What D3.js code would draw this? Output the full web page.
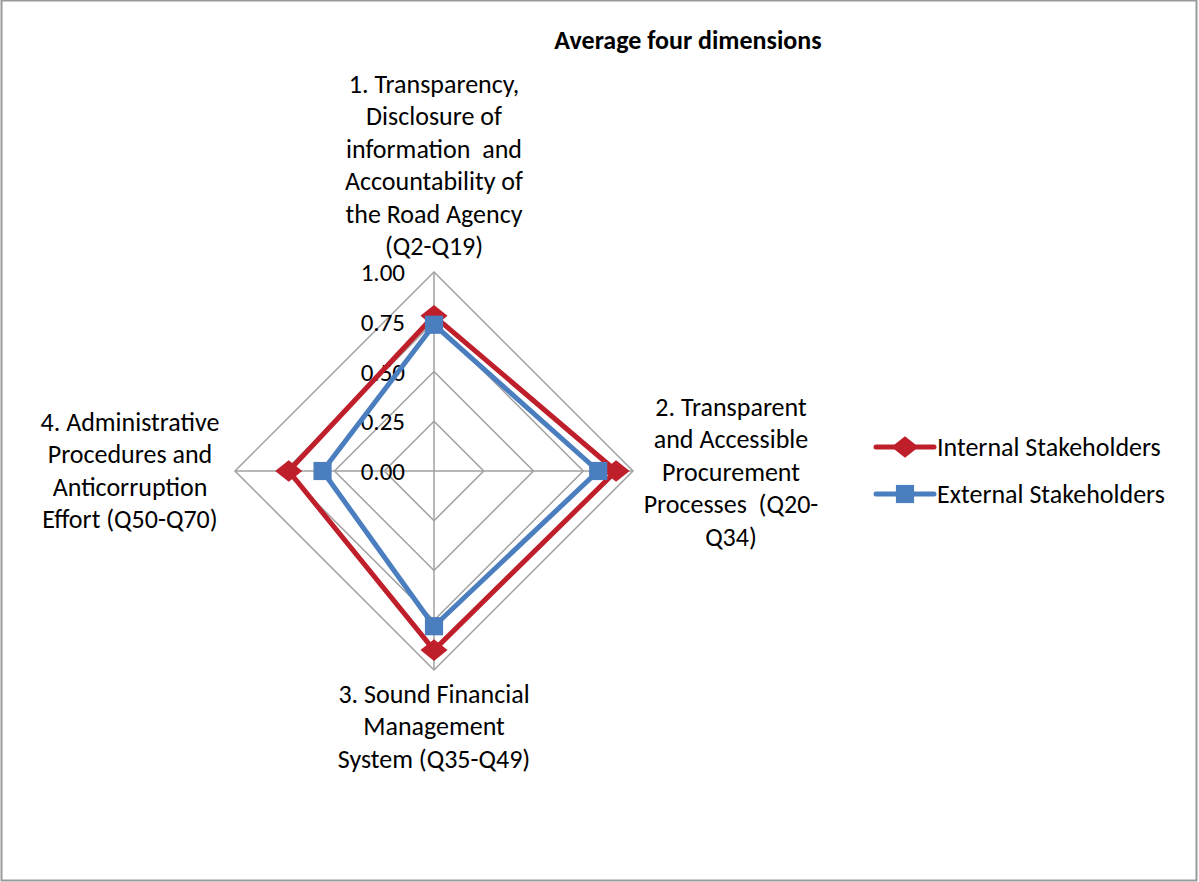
<!DOCTYPE html>
<html>
<head>
<meta charset="utf-8">
<script src="https://cdn.jsdelivr.net/npm/d3@7"></script>
<style>
  body { margin: 0; background: #fff; }
  svg { font-family: Calibri, Carlito, "Open Sans", "Liberation Sans", sans-serif; }
  svg text { white-space: pre; }
</style>
</head>
<body>
<div id="chart"></div>
<script>
const WIDTH = 1199;
const HEIGHT = 882;

// data
const axes = [
  ["1. Transparency,", "Disclosure of", "information  and", "Accountability of", "the Road Agency", "(Q2-Q19)"],
  ["2. Transparent", "and Accessible", "Procurement", "Processes  (Q20-", "Q34)"],
  ["3. Sound Financial", "Management", "System (Q35-Q49)"],
  ["4. Administrative", "Procedures and", "Anticorruption", "Effort (Q50-Q70)"]
];
const seriesNames = ["Internal Stakeholders", "External Stakeholders"];
const internalVals = [0.78, 0.915, 0.90, 0.73];
const externalVals = [0.735, 0.825, 0.78, 0.56];
const ticks = [0, 0.25, 0.5, 0.75, 1];
const colors = ["#BF1F2A", "#4A7EBF"];

const cx = 434, cy = 471, R = 199;
const r = d3.scaleLinear().domain([0, 1]).range([0, R]);
const angle = i => -Math.PI / 2 + i * Math.PI / 2;
const pt = (v, i) => [cx + r(v) * Math.cos(angle(i)), cy + r(v) * Math.sin(angle(i))];

const svg = d3.select("#chart").append("svg")
  .attr("width", WIDTH)
  .attr("height", HEIGHT);

svg.append("rect")
  .attr("x", 1.5).attr("y", 0.5)
  .attr("width", WIDTH - 4).attr("height", HEIGHT - 2)
  .attr("fill", "#fff").attr("stroke", "#9a9a9a").attr("stroke-width", 2);

svg.append("text")
  .attr("x", 688).attr("y", 49)
  .attr("text-anchor", "middle")
  .attr("font-weight", "bold")
  .attr("font-size", 26)
  .text("Average four dimensions");

// grid
const grid = svg.append("g");
ticks.slice(1).forEach(t => {
  grid.append("polygon")
    .attr("points", axes.map((_, i) => pt(t, i).join(",")).join(" "))
    .attr("fill", "none").attr("stroke", "#a0a0a0").attr("stroke-width", 1.5);
});
axes.forEach((_, i) => {
  const p = pt(1, i);
  grid.append("line")
    .attr("x1", cx).attr("y1", cy).attr("x2", p[0]).attr("y2", p[1])
    .attr("stroke", "#a0a0a0").attr("stroke-width", 1.5);
});

// tick labels
svg.append("g").selectAll("text").data(ticks).join("text")
  .attr("x", cx - 29)
  .attr("y", d => cy - r(d) + 9)
  .attr("text-anchor", "end")
  .attr("font-size", 25)
  .attr("fill", "#000")
  .text(d3.format(".2f"));

// axis labels
const labelPos = [[434, 93], [731, 416], [434, 703], [130, 431]];
axes.forEach((lines, i) => {
  const t = svg.append("text")
    .attr("text-anchor", "middle")
    .attr("font-size", 26)
    .attr("fill", "#000");
  lines.forEach((ln, j) => {
    t.append("tspan")
      .attr("x", labelPos[i][0])
      .attr("y", labelPos[i][1] + j * 32.4)
      .text(ln);
  });
});

const diamond = d3.symbol().type(d3.symbolDiamond2).size(300);
const square = d3.symbol().type(d3.symbolSquare).size(330);
const markers = [diamond, square];

[internalVals, externalVals].forEach((vals, s) => {
  const pts = vals.map((v, i) => pt(v, i));
  svg.append("path")
    .attr("d", d3.line().curve(d3.curveLinearClosed)(pts))
    .attr("fill", "none")
    .attr("stroke", colors[s])
    .attr("stroke-width", 5)
    .attr("stroke-linejoin", "round");
  svg.append("g").selectAll("path").data(pts).join("path")
    .attr("transform", d => `translate(${d[0]},${d[1]})` + (s === 0 ? " scale(1.25,1)" : ""))
    .attr("d", markers[s])
    .attr("fill", colors[s]);
});

// legend
const legend = svg.append("g");
seriesNames.forEach((name, s) => {
  const y = 447 + s * 47;
  legend.append("line")
    .attr("x1", 876).attr("x2", 934).attr("y1", y).attr("y2", y)
    .attr("stroke", colors[s]).attr("stroke-width", 5).attr("stroke-linecap", "round");
  legend.append("path")
    .attr("transform", `translate(905,${y})` + (s === 0 ? " scale(1.25,1)" : ""))
    .attr("d", markers[s])
    .attr("fill", colors[s]);
  legend.append("text")
    .attr("x", 937).attr("y", y + 9)
    .attr("font-size", 26)
    .text(name);
});
</script>
</body>
</html>
